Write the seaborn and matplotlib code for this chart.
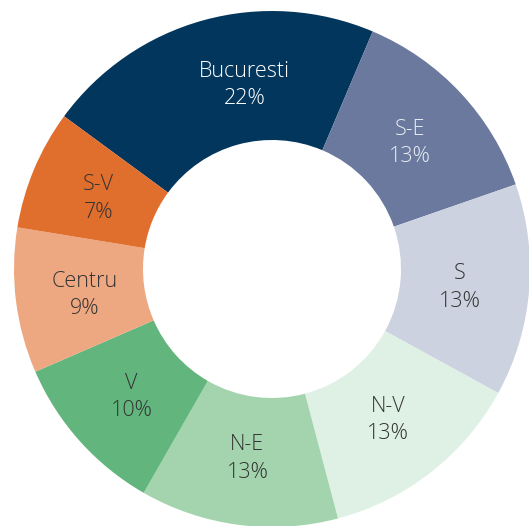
import numpy as np
import matplotlib
matplotlib.use("Agg")
from matplotlib import pyplot as plt
import seaborn as sns

sns.set_theme(style="white")
plt.rcParams['font.family'] = ['Open Sans', 'DejaVu Sans']

# regions, clockwise from Bucuresti
regions = ["Bucuresti", "S-E", "S", "N-V", "N-E", "V", "Centru", "S-V"]
shares = [21.3, 13.3, 13.3, 12.9, 12.4, 10.2, 9.1, 7.5]   # arc sizes
pct_labels = ["22%", "13%", "13%", "13%", "13%", "10%", "9%", "7%"]
colors = ["#03365C", "#6A799D", "#CCD2DF", "#DFF0E4", "#A3D4AD",
          "#62B57D", "#EDA881", "#E06E2D"]
text_colors = ["#FFFFFF", "#E8ECF2", "#333333", "#333333", "#333333",
               "#333333", "#333333", "#333333"]

fig = plt.figure(figsize=(5.29, 5.26), dpi=100)
ax = fig.add_axes([0, 0, 1, 1])

wedges, _ = ax.pie(shares, colors=colors, startangle=143.7, counterclock=False,
                   radius=1.0, wedgeprops=dict(width=0.5, linewidth=0))

for i, w in enumerate(wedges):
    ang = (w.theta1 + w.theta2) / 2
    if regions[i] == "Bucuresti":
        ang -= 7  # label sits a bit right of the wedge middle
    r = 0.73
    x = r * np.cos(np.deg2rad(ang))
    y = r * np.sin(np.deg2rad(ang)) - 0.01
    ax.text(x, y, regions[i] + "\n" + pct_labels[i], ha="center", va="center",
            fontsize=15.5, fontweight="light", color=text_colors[i],
            linespacing=1.4)

ax.set_xlim(-272 / 258, 257 / 258)
ax.set_ylim(-257 / 258, 269 / 258)
ax.set_aspect("equal")
ax.axis("off")

fig.savefig("out.png", dpi=100, facecolor="white")
